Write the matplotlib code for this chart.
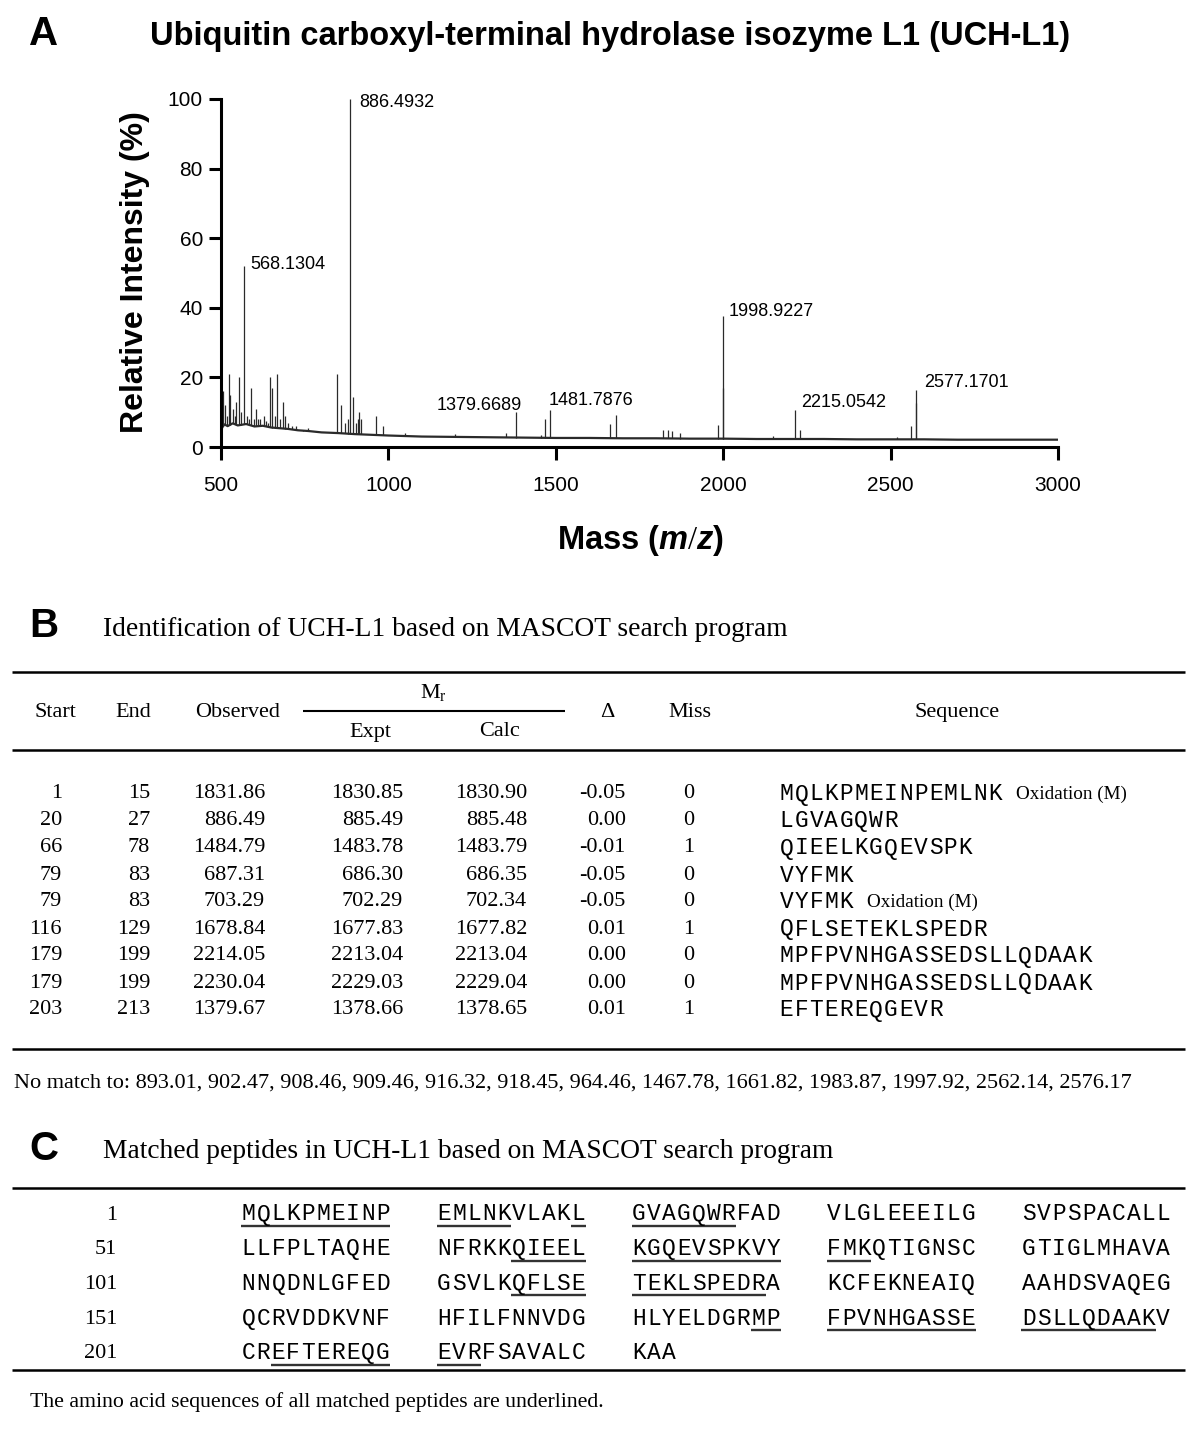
import matplotlib
matplotlib.use("Agg")
import matplotlib.pyplot as plt
from matplotlib.lines import Line2D
import numpy as np

# ---- spectrum (panel A) ----
base_mz = [500, 503, 510, 520, 535, 550, 575, 600, 625, 650, 675, 700, 730, 760, 800,
           850, 900, 950, 1000, 1100, 1200, 1300, 1400, 1500, 1600, 1700, 1800, 1900,
           2000, 2100, 2200, 2300, 2400, 2500, 2600, 2700, 2800, 2900, 3000]
base_int = [0.5, 5.5, 6.5, 6.0, 6.8, 6.2, 6.6, 5.9, 6.1, 5.6, 5.4, 5.2, 4.8, 4.6, 4.2,
            4.0, 3.7, 3.5, 3.3, 3.0, 2.9, 2.8, 2.7, 2.6, 2.6, 2.5, 2.5, 2.4, 2.4, 2.3,
            2.3, 2.3, 2.2, 2.2, 2.2, 2.1, 2.1, 2.1, 2.1]

peak_mz = [506, 513, 518, 524, 527, 536, 541, 546, 554, 560, 568.13, 578, 584, 590, 598,
           605, 611, 617, 629, 634, 640, 647, 652, 661, 668, 676, 685, 690, 700, 712,
           725, 745, 760, 845, 858, 870, 878, 886.49, 893, 902, 909, 913, 918, 964, 983,
           1050, 1200, 1350, 1379.67, 1455, 1467.78, 1481.79, 1661.82, 1678.84, 1820,
           1834, 1846, 1870, 1983.87, 1997.92, 1998.92, 2150, 2215.05, 2230, 2520,
           2562.14, 2576.17, 2577.17]
peak_int = [16, 12, 9, 21, 15, 11, 9, 13, 20, 10, 52, 9, 8, 17, 8,
            11, 8, 8, 9, 7.5, 7, 20, 17, 9, 21, 8, 13, 9, 7, 6,
            6, 5, 5.5, 21, 12, 7, 8, 100, 14.5, 7, 8, 10, 8, 9, 6,
            4, 3.8, 4, 10, 3.5, 8, 10.7, 6.6, 9.2, 5,
            5, 4.5, 4, 6.2, 17, 37.7, 3.3, 10.7, 5, 3,
            6, 12.7, 16.4]

ann_text = ["568.1304", "886.4932", "1379.6689", "1481.7876", "1998.9227", "2215.0542", "2577.1701"]
ann_xy = [(587, 52.5), (912, 99), (1144, 12), (1478, 13.5), (2017, 39), (2233, 12.7), (2600, 18.5)]

# ---- table (panel B) ----
starts = [1, 20, 66, 79, 79, 116, 179, 179, 203]
ends = [15, 27, 78, 83, 83, 129, 199, 199, 213]
observed = [1831.86, 886.49, 1484.79, 687.31, 703.29, 1678.84, 2214.05, 2230.04, 1379.67]
expt = [1830.85, 885.49, 1483.78, 686.30, 702.29, 1677.83, 2213.04, 2229.03, 1378.66]
calc = [1830.90, 885.48, 1483.79, 686.35, 702.34, 1677.82, 2213.04, 2229.04, 1378.65]
delta = ["-0.05", "0.00", "-0.01", "-0.05", "-0.05", "0.01", "0.00", "0.00", "0.01"]
miss = [0, 0, 1, 0, 0, 1, 0, 0, 1]
peptides = ["MQLKPMEINPEMLNK", "LGVAGQWR", "QIEELKGQEVSPK", "VYFMK", "VYFMK",
            "QFLSETEKLSPEDR", "MPFPVNHGASSEDSLLQDAAK", "MPFPVNHGASSEDSLLQDAAK", "EFTEREQGEVR"]
mods = ["Oxidation (M)", "", "", "", "Oxidation (M)", "", "", "", ""]
no_match = [893.01, 902.47, 908.46, 909.46, 916.32, 918.45, 964.46, 1467.78, 1661.82,
            1983.87, 1997.92, 2562.14, 2576.17]

# ---- sequence (panel C) ----
uchl1_seq = ("MQLKPMEINPEMLNKVLAKLGVAGQWRFADVLGLEEEILGSVPSPACALL"
             "LLFPLTAQHENFRKKQIEELKGQEVSPKVYFMKQTIGNSCGTIGLMHAVA"
             "NNQDNLGFEDGSVLKQFLSETEKLSPEDRAKCFEKNEAIQAAHDSVAQEG"
             "QCRVDDKVNFHFILFNNVDGHLYELDGRMPFPVNHGASSEDSLLQDAAKV"
             "CREFTEREQGEVRFSAVALCKAA")
matched = [(1, 15), (20, 27), (66, 78), (79, 83), (116, 129), (179, 199), (203, 213)]

W, H = 1200, 1429
plt.rcParams['mathtext.fontset'] = 'custom'
plt.rcParams['mathtext.rm'] = 'Liberation Serif'
plt.rcParams['mathtext.it'] = 'Liberation Sans:italic:bold'
plt.rcParams['mathtext.bf'] = 'Liberation Sans:bold'

SANS = 'Liberation Sans'
SERIF = 'Liberation Serif'
MONO = 'Liberation Mono'

fig = plt.figure(figsize=(W / 100, H / 100), dpi=100)


def fx(x):
    return x / W


def fy(y):
    return 1 - y / H


def txt(x, y, s, **kw):
    fig.text(fx(x), fy(y), s, **kw)


def hline(x0, x1, y, lw=1.8, color='black'):
    fig.add_artist(Line2D([fx(x0), fx(x1)], [fy(y), fy(y)], transform=fig.transFigure,
                          lw=lw, color=color, solid_capstyle='butt'))


cw = 14.92   # courier cell width in px


def mono(x, y, s):
    # one glyph per cell, so a lighter face keeps the Courier pitch
    for k, ch in enumerate(s):
        txt(x + (k + 0.5) * cw, y, ch, fontsize=16.5, family=MONO, ha='center', va='center')


# panel A
ax = fig.add_axes([fx(221), fy(447), fx(1058) - fx(221), fy(99) - fy(447)])
ax.plot(base_mz, base_int, color='#2a2a2a', lw=1.6)
peak_base = np.interp(peak_mz, base_mz, base_int)
ax.vlines(peak_mz, peak_base, peak_int, color='#2a2a2a', lw=0.9)
for s, (x, y) in zip(ann_text, ann_xy):
    ax.text(x, y, s, ha='left', va='center', fontsize=13, family=SANS)
ax.set_xlim(500, 3000)
ax.set_ylim(0, 100)
ax.set_xticks([500, 1000, 1500, 2000, 2500, 3000])
ax.set_yticks([0, 20, 40, 60, 80, 100])
for side in ['top', 'right']:
    ax.spines[side].set_visible(False)
for side in ['left', 'bottom']:
    ax.spines[side].set_linewidth(2.2)
ax.tick_params(direction='out', length=9, width=2.2, labelsize=15, pad=4)
ax.tick_params(axis='x', pad=12)
for lab in ax.get_xticklabels() + ax.get_yticklabels():
    lab.set_family(SANS)
ax.patch.set_visible(False)

txt(44, 34, "A", fontsize=29, fontweight='bold', family=SANS, ha='center', va='center')
txt(610, 37, "Ubiquitin carboxyl-terminal hydrolase isozyme L1 (UCH-L1)", fontsize=23.5,
    fontweight='bold', family=SANS, ha='center', va='center')
txt(135, 272, "Relative Intensity (%)", fontsize=23, fontweight='bold', family=SANS,
    rotation=90, ha='center', va='center')
txt(641, 540, r"Mass ($\mathit{m/z}$)", fontsize=23.5, fontweight='bold', family=SANS,
    ha='center', va='center')

# panel B
txt(44, 626, "B", fontsize=29, fontweight='bold', family=SANS, ha='center', va='center')
txt(103, 630, "Identification of UCH-L1 based on MASCOT search program", fontsize=19.8,
    family=SERIF, ha='left', va='center')
hline(12, 1185, 672)
hline(12, 1185, 750)
hline(12, 1185, 1049)
hline(303, 565, 711, lw=1.5)
hfs = 16
txt(55, 712, "Start", fontsize=hfs, family=SERIF, ha='center', va='center')
txt(133, 712, "End", fontsize=hfs, family=SERIF, ha='center', va='center')
txt(238, 712, "Observed", fontsize=hfs, family=SERIF, ha='center', va='center')
txt(433, 693, r"M$_{\mathrm{r}}$", fontsize=hfs, family=SERIF, ha='center', va='center')
txt(370, 732, "Expt", fontsize=hfs, family=SERIF, ha='center', va='center')
txt(500, 732, "Calc", fontsize=hfs, family=SERIF, ha='center', va='center')
txt(607, 712, "\u0394", fontsize=hfs, family=SERIF, ha='center', va='center')
txt(690, 712, "Miss", fontsize=hfs, family=SERIF, ha='center', va='center')
txt(957, 712, "Sequence", fontsize=hfs, family=SERIF, ha='center', va='center')

for i in range(len(starts)):
    y = 794 + i * 27.0
    txt(62, y, str(starts[i]), fontsize=hfs, family=SERIF, ha='right', va='center')
    txt(150, y, str(ends[i]), fontsize=hfs, family=SERIF, ha='right', va='center')
    txt(265, y, f"{observed[i]:.2f}", fontsize=hfs, family=SERIF, ha='right', va='center')
    txt(403, y, f"{expt[i]:.2f}", fontsize=hfs, family=SERIF, ha='right', va='center')
    txt(527, y, f"{calc[i]:.2f}", fontsize=hfs, family=SERIF, ha='right', va='center')
    txt(626, y, delta[i], fontsize=hfs, family=SERIF, ha='right', va='center')
    txt(689, y, str(miss[i]), fontsize=hfs, family=SERIF, ha='center', va='center')
    mono(779, y, peptides[i])
    if mods[i]:
        txt(779 + len(peptides[i]) * cw + 13, y, mods[i], fontsize=13.8, family=SERIF,
            ha='left', va='center')

txt(14, 1083, "No match to: " + ", ".join(f"{v:.2f}" for v in no_match), fontsize=16,
    family=SERIF, ha='left', va='center')

# panel C
txt(44, 1149, "C", fontsize=29, fontweight='bold', family=SANS, ha='center', va='center')
txt(103, 1152, "Matched peptides in UCH-L1 based on MASCOT search program", fontsize=19.8,
    family=SERIF, ha='left', va='center')
hline(12, 1185, 1188)
hline(12, 1185, 1370)

block_x = [241, 436.5, 631.5, 826.5, 1021.5]
row_step = 34.7
row0 = 1214
for r in range(0, len(uchl1_seq), 50):
    ri = r // 50
    y = row0 + ri * row_step
    txt(117, y + 1, str(r + 1), fontsize=hfs, family=SERIF, ha='right', va='center')
    for b in range(5):
        chunk = uchl1_seq[r + b * 10:r + b * 10 + 10]
        if chunk:
            mono(block_x[b], y, chunk)

# underline matched residues, broken at block gaps
for a, e in matched:
    i = a - 1
    while i < e:
        ri, rem = divmod(i, 50)
        b, p = divmod(rem, 10)
        j = i
        while j < e and (j // 10) == (i // 10):
            j += 1
        x0 = block_x[b] + p * cw
        x1 = x0 + (j - i) * cw
        hline(x0, x1, row0 + ri * row_step + 12, lw=1.7, color='#333333')
        i = j

txt(30, 1402, "The amino acid sequences of all matched peptides are underlined.",
    fontsize=15.7, family=SERIF, ha='left', va='center')

fig.savefig("out.png", dpi=100)
